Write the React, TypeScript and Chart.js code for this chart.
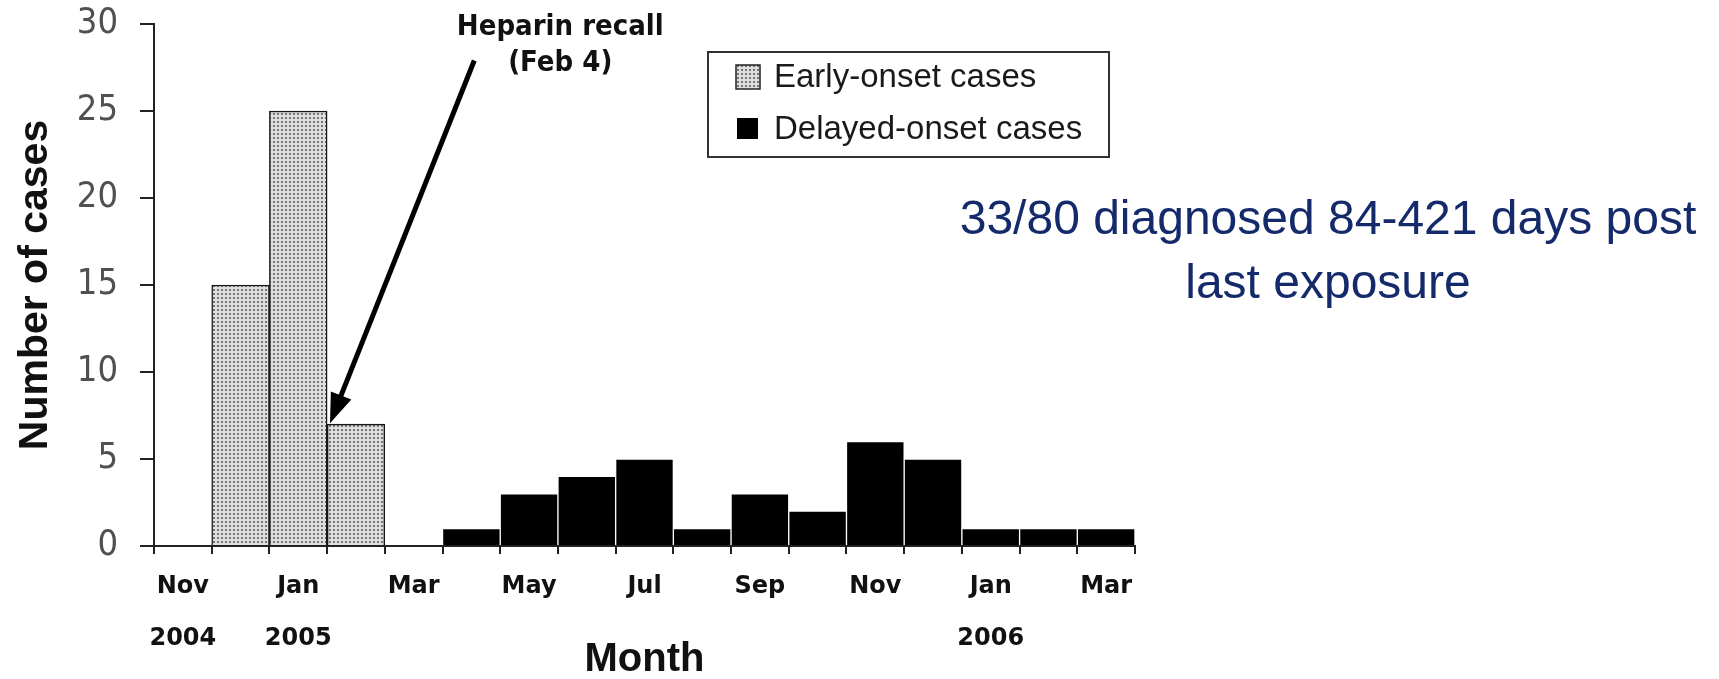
import React, { useEffect, useRef } from 'react';
import { Chart, registerables } from 'chart.js';

Chart.register(...registerables);

// ---- data ----
const months = ['Nov', 'Dec', 'Jan', 'Feb', 'Mar', 'Apr', 'May', 'Jun', 'Jul', 'Aug', 'Sep', 'Oct', 'Nov', 'Dec', 'Jan', 'Feb', 'Mar'];
const yearRow = ['2004', '', '2005', '', '', '', '', '', '', '', '', '', '', '', '2006', '', ''];
const earlyOnset = [null, 15, 25, 7, null, null, null, null, null, null, null, null, null, null, null, null, null];
const delayedOnset = [null, null, null, null, null, 1, 3, 4, 5, 1, 3, 2, 6, 5, 1, 1, 1];
const yMin = 0;
const yMax = 30;
const yStep = 5;
const seriesNames = ['Early-onset cases', 'Delayed-onset cases'];
const recallText = ['Heparin recall', '(Feb 4)'];
const noteText = ['33/80 diagnosed 84-421 days post', 'last exposure'];
// annotation anchor points in data units (category index, value)
const arrowFrom = [5.05, 27.9];
const arrowTo = [2.55, 7.05];
const recallAt = [6.54, 29.8];

function makeDotPattern(): CanvasPattern | string {
  const c = document.createElement('canvas');
  c.width = 4;
  c.height = 4;
  const g = c.getContext('2d');
  if (!g) return '#cccccc';
  g.fillStyle = '#dedede';
  g.fillRect(0, 0, 4, 4);
  g.fillStyle = '#767676';
  g.fillRect(1, 1, 2, 2);
  const p = g.createPattern(c, 'repeat');
  return p || '#cccccc';
}

export default function App() {
  const ref = useRef<HTMLCanvasElement | null>(null);

  useEffect(() => {
    document.body.style.margin = '0';
    const canvas = ref.current;
    if (!canvas) return;
    const pattern = makeDotPattern();

    const overlay = {
      id: 'overlay',
      afterDraw(chart: any) {
        const { ctx, scales } = chart;
        const x = scales.x;
        const y = scales.y;
        ctx.save();

        // arrow
        const sx = x.getPixelForValue(arrowFrom[0]);
        const sy = y.getPixelForValue(arrowFrom[1]);
        const tx = x.getPixelForValue(arrowTo[0]);
        const ty = y.getPixelForValue(arrowTo[1]);
        const ang = Math.atan2(ty - sy, tx - sx);
        const headLen = 30;
        const headHalf = 11;
        const bx = tx - headLen * Math.cos(ang);
        const by = ty - headLen * Math.sin(ang);
        ctx.strokeStyle = '#000';
        ctx.lineWidth = 5;
        ctx.lineCap = 'butt';
        ctx.beginPath();
        ctx.moveTo(sx, sy);
        ctx.lineTo(bx + 4 * Math.cos(ang), by + 4 * Math.sin(ang));
        ctx.stroke();
        ctx.fillStyle = '#000';
        ctx.beginPath();
        ctx.moveTo(tx, ty);
        ctx.lineTo(bx + headHalf * Math.sin(ang), by - headHalf * Math.cos(ang));
        ctx.lineTo(bx - headHalf * Math.sin(ang), by + headHalf * Math.cos(ang));
        ctx.closePath();
        ctx.fill();

        // recall label
        const rx = x.getPixelForValue(recallAt[0]);
        const ry = y.getPixelForValue(recallAt[1]);
        ctx.font = "bold 29px 'DejaVu Sans Condensed', 'DejaVu Sans', sans-serif";
        ctx.textAlign = 'center';
        ctx.textBaseline = 'middle';
        ctx.fillStyle = '#111';
        ctx.fillText(recallText[0], rx, ry);
        ctx.fillText(recallText[1], rx, ry + 36);

        // legend box
        ctx.strokeStyle = '#333';
        ctx.lineWidth = 2;
        ctx.strokeRect(708, 52, 401, 105);
        // early marker
        ctx.fillStyle = pattern as any;
        ctx.fillRect(736, 65, 24, 24);
        ctx.strokeStyle = '#222';
        ctx.lineWidth = 1.5;
        ctx.strokeRect(736, 65, 24, 24);
        // delayed marker
        ctx.fillStyle = '#000';
        ctx.fillRect(737, 118, 21, 21);
        ctx.font = "33px 'Liberation Sans', Arial, sans-serif";
        ctx.textAlign = 'left';
        ctx.textBaseline = 'middle';
        ctx.fillStyle = '#1a1a1a';
        ctx.fillText(chart.data.datasets[0].label, 774, 78);
        ctx.fillText(chart.data.datasets[1].label, 774, 130);

        // note text
        ctx.font = "48px 'Liberation Sans', Arial, sans-serif";
        ctx.textAlign = 'center';
        ctx.fillStyle = '#142a6a';
        ctx.fillText(noteText[0], 1328, 221);
        ctx.fillText(noteText[1], 1328, 285);

        ctx.restore();
      },
    };

    const chart = new Chart(canvas, {
      type: 'bar',
      data: {
        labels: months,
        datasets: [
          {
            label: seriesNames[0],
            data: earlyOnset as any,
            backgroundColor: pattern as any,
            borderColor: '#151515',
            borderWidth: 1.5,
            barPercentage: 1,
            categoryPercentage: 1,
            grouped: false,
          } as any,
          {
            label: seriesNames[1],
            data: delayedOnset as any,
            backgroundColor: '#000',
            borderColor: '#ffffff',
            borderWidth: 1,
            barPercentage: 1,
            categoryPercentage: 1,
            grouped: false,
          } as any,
        ],
      },
      options: {
        responsive: false,
        animation: false,
        layout: { padding: { left: 0, right: 584, top: 24, bottom: 0 } },
        plugins: {
          legend: { display: false },
          tooltip: { enabled: false },
          title: { display: false },
        },
        scales: {
          x: {
            offset: true,
            grid: {
              offset: true,
              drawOnChartArea: false,
              drawTicks: true,
              tickLength: 8,
              color: '#222',
              lineWidth: 2,
            },
            border: { display: true, color: '#222', width: 2 },
            ticks: {
              autoSkip: false,
              maxRotation: 0,
              minRotation: 0,
              padding: 6,
              color: '#111',
              font: { family: "'DejaVu Sans', sans-serif", size: 24, weight: 'bold', lineHeight: 2.2 },
              callback: (_v: any, i: number) => (i % 2 === 0 ? [months[i], yearRow[i]] : ''),
            },
            title: {
              display: true,
              text: 'Month',
              color: '#111',
              font: { family: "'Liberation Sans', Arial, sans-serif", size: 40, weight: 'bold', lineHeight: 1 },
              padding: { top: 0, bottom: -1 },
            },
            afterFit: (s: any) => {
              s.height = 133;
              s.paddingLeft = 0;
              s.paddingRight = 0;
            },
          },
          y: {
            min: yMin,
            max: yMax,
            grid: {
              drawOnChartArea: false,
              drawTicks: true,
              tickLength: 14,
              color: '#222',
              lineWidth: 2,
            },
            border: { display: true, color: '#222', width: 2 },
            ticks: {
              stepSize: yStep,
              padding: 22,
              color: '#505050',
              font: { family: "'Liberation Sans Narrow', 'DejaVu Sans Condensed', 'Liberation Sans', sans-serif", size: 36 },
            },
            title: {
              display: true,
              text: 'Number of cases',
              color: '#111',
              font: { family: "'Liberation Sans', Arial, sans-serif", size: 41, weight: 'bold', lineHeight: 1 },
              padding: { top: 15, bottom: 0 },
            },
            afterFit: (s: any) => {
              s.width = 154;
              s.paddingTop = 0;
              s.paddingBottom = 0;
            },
          },
        },
      } as any,
      plugins: [overlay],
    });

    return () => {
      chart.destroy();
    };
  }, []);

  return (
    <div style={{ width: 1719, height: 679 }}>
      <canvas ref={ref} width={1719} height={679} style={{ display: 'block' }} />
    </div>
  );
}
